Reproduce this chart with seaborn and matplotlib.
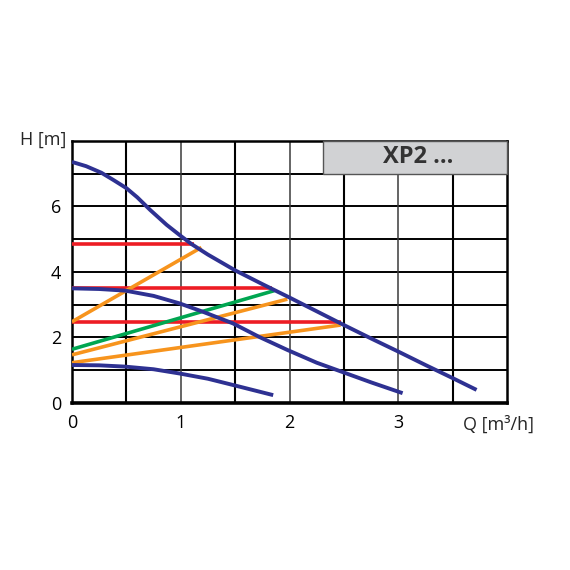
import numpy as np
import pandas as pd
import matplotlib
matplotlib.use("Agg")
from matplotlib import pyplot as plt
import seaborn as sns

# pump curves: Q [m3/h], H [m]
blue_hi_q = [0, 0.13, 0.27, 0.38, 0.5, 0.6, 0.72, 0.87, 1.0, 1.1, 1.25, 1.5, 1.75, 2.0, 2.25, 2.5, 2.75, 3.0, 3.25, 3.5, 3.72]
blue_hi_h = [7.36, 7.23, 7.03, 6.81, 6.56, 6.28, 5.89, 5.44, 5.10, 4.85, 4.53, 4.05, 3.63, 3.22, 2.80, 2.38, 1.97, 1.57, 1.16, 0.76, 0.40]

blue_mid_q = [0, 0.25, 0.49, 0.75, 0.99, 1.2, 1.48, 1.72, 1.98, 2.25, 2.5, 2.75, 3.04]
blue_mid_h = [3.50, 3.48, 3.43, 3.27, 3.04, 2.79, 2.43, 2.02, 1.62, 1.23, 0.93, 0.63, 0.30]

blue_lo_q = [0, 0.25, 0.49, 0.75, 0.99, 1.25, 1.48, 1.85]
blue_lo_h = [1.16, 1.15, 1.11, 1.03, 0.90, 0.74, 0.55, 0.24]

# constant pressure (red), proportional pressure (orange), green
red_lines = [([0, 1.12], [4.85, 4.85]),
             ([0, 1.84], [3.50, 3.50]),
             ([0, 2.47], [2.46, 2.46])]
orange_lines = [([0, 1.19], [2.48, 4.75]),
                ([0, 1.98], [1.47, 3.17]),
                ([0, 2.47], [1.23, 2.38])]
green_lines = [([0, 1.86], [1.64, 3.43])]

rows = []
def add(name, kind, qs, hs):
    for q, h in zip(qs, hs):
        rows.append({"curve": name, "kind": kind, "Q": q, "H": h})

for i, (q, h) in enumerate(red_lines):
    add("r%d" % i, "red", q, h)
for i, (q, h) in enumerate(orange_lines):
    add("o%d" % i, "orange", q, h)
for i, (q, h) in enumerate(green_lines):
    add("g%d" % i, "green", q, h)
add("b0", "blue", blue_hi_q, blue_hi_h)
add("b1", "blue", blue_mid_q, blue_mid_h)
add("b2", "blue", blue_lo_q, blue_lo_h)
df = pd.DataFrame(rows)

colors = {"red": "#ed1c24", "orange": "#f7941d", "green": "#00a651", "blue": "#2e3192"}
widths = {"red": 2.6, "orange": 2.6, "green": 2.6, "blue": 2.8}

sns.set_style("white")
plt.rcParams['font.family'] = ['Open Sans', 'DejaVu Sans']

fig = plt.figure(figsize=(5.7, 5.7), dpi=100)
ax = fig.add_axes([0.1263, 0.293, 0.7632, 0.4597])

# grid
for y in range(1, 8):
    ax.axhline(y, color="black", lw=1.4, zorder=0)
for x in np.arange(0.5, 4, 0.5):
    if x % 1 == 0:
        ax.axvline(x, color="#3a3a3a", lw=1.1, zorder=0)
    else:
        ax.axvline(x, color="black", lw=1.5, zorder=0)

for kind in ["red", "orange", "green", "blue"]:
    sub = df[df.kind == kind]
    sns.lineplot(data=sub, x="Q", y="H", units="curve", estimator=None, sort=False,
                 color=colors[kind], lw=widths[kind], ax=ax, legend=False,
                 solid_capstyle="butt", solid_joinstyle="round", zorder=3)

ax.set_xlim(0, 4)
ax.set_ylim(0, 8)
ax.set_xticks([0, 1, 2, 3])
ax.set_yticks([0, 2, 4, 6])
ax.tick_params(length=0, labelsize=13, colors="black")
ax.tick_params(axis="x", pad=8)
ax.tick_params(axis="y", pad=8)
ax.set_xlabel("")
ax.set_ylabel("")
for s in ["top", "right", "left"]:
    ax.spines[s].set_linewidth(1.8)
    ax.spines[s].set_color("black")
ax.spines["bottom"].set_linewidth(2.6)
ax.spines["bottom"].set_color("black")

# title box
ax.add_patch(plt.Rectangle((2.31, 7.0), 1.69, 1.0, facecolor="#d1d2d4",
                           edgecolor="#555555", lw=1.0, zorder=4, clip_on=False))
ax.text(3.18, 7.5, "XP2 ...", ha="center", va="center", fontsize=17,
        fontweight="bold", color="#333333", zorder=5)

fig.text(20 / 570, 1 - 140 / 570, "H [m]", ha="left", va="center", fontsize=13)
fig.text(463 / 570, 1 - 425 / 570, "Q [m³/h]", ha="left", va="center", fontsize=13)

fig.savefig("out.png", dpi=100)
